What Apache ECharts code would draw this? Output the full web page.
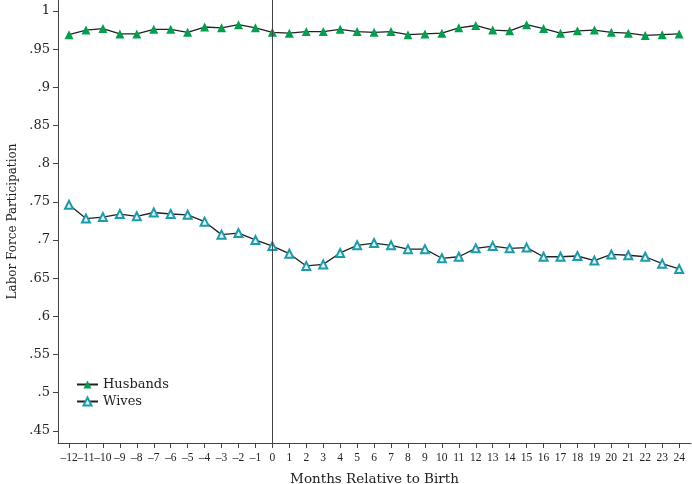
<!DOCTYPE html>
<html>
<head>
<meta charset="utf-8">
<script src="https://cdn.jsdelivr.net/npm/echarts@6/dist/echarts.min.js"></script>
<style>
  html, body { margin: 0; padding: 0; background: #fff; }
  #chart { width: 692px; height: 484px; }
</style>
</head>
<body>
<div id="chart"></div>
<script>
// months relative to birth
var months = [-12, -11, -10, -9, -8, -7, -6, -5, -4, -3, -2, -1, 0, 1, 2, 3, 4, 5, 6, 7, 8, 9, 10, 11, 12, 13, 14, 15, 16, 17, 18, 19, 20, 21, 22, 23, 24];
var husbands = [.969, .975, .977, .970, .970, .976, .976, .972, .979, .978, .982, .978, .972, .971, .973, .973, .976, .973, .972, .973, .969, .970, .971, .978, .981, .975, .974, .982, .977, .971, .974, .975, .972, .971, .968, .969, .970];
var wives = [.746, .728, .730, .734, .731, .736, .734, .733, .724, .707, .709, .700, .692, .682, .666, .668, .683, .693, .696, .693, .688, .688, .676, .678, .689, .692, .689, .690, .678, .678, .679, .673, .681, .680, .678, .669, .662];
var yTicks = [.45, .5, .55, .6, .65, .7, .75, .8, .85, .9, .95, 1];

var serif = "DejaVu Serif";
var narrow = "Liberation Serif";

function pairs(vals) {
  return months.map(function (m, i) { return [m, vals[i]]; });
}

var myChart = echarts.init(document.getElementById("chart"));

var option = {
  animation: false,
  textStyle: { fontFamily: serif, color: "#222" },
  grid: { left: 58, right: 1, top: 0, bottom: 41, outerBoundsMode: "none" },
  legend: {
    orient: "vertical",
    left: 71,
    top: 373,
    itemWidth: 21,
    itemHeight: 10,
    itemGap: 4,
    textStyle: { fontFamily: serif, fontSize: 13, color: "#222" },
    data: ["Husbands", "Wives"]
  },
  xAxis: {
    type: "value",
    min: -12.65,
    max: 24.7,
    name: "Months Relative to Birth",
    nameLocation: "middle",
    nameGap: 29,
    nameTextStyle: { fontFamily: serif, fontSize: 13.5, color: "#222" },
    axisLine: { onZero: false, lineStyle: { color: "#444", width: 1 } },
    axisTick: { customValues: months, length: 5, lineStyle: { color: "#444" } },
    axisLabel: {
      customValues: months,
      fontFamily: narrow,
      fontSize: 11.5,
      color: "#222",
      margin: 9,
      showMinLabel: true,
      hideOverlap: false,
      formatter: function (v) { return v < 0 ? "\u2013" + Math.abs(v) : String(v); }
    },
    splitLine: { show: false }
  },
  yAxis: {
    type: "value",
    min: 0.434,
    max: 1.0144,
    name: "Labor Force Participation",
    nameLocation: "middle",
    nameGap: 39,
    nameTextStyle: { fontFamily: serif, fontSize: 12, color: "#222" },
    axisLine: { show: true, onZero: false, lineStyle: { color: "#444", width: 1 } },
    axisTick: { show: true, customValues: yTicks, length: 5, lineStyle: { color: "#444" } },
    axisLabel: {
      customValues: yTicks,
      fontSize: 13,
      color: "#222",
      margin: 8,
      formatter: function (v) {
        var s = String(Math.round(v * 100) / 100);
        return s.replace(/^0/, "");
      }
    },
    splitLine: { show: false }
  },
  series: [
    {
      name: "Husbands",
      type: "line",
      data: pairs(husbands),
      symbol: "triangle",
      symbolSize: 9,
      lineStyle: { color: "#222", width: 1.3 },
      itemStyle: { color: "#00a04e", borderWidth: 0 },
      markLine: {
        silent: true,
        symbol: "none",
        label: { show: false },
        lineStyle: { color: "#444", width: 1, type: "solid" },
        data: [{ xAxis: 0 }]
      }
    },
    {
      name: "Wives",
      type: "line",
      data: pairs(wives),
      symbol: "triangle",
      symbolSize: 8,
      lineStyle: { color: "#222", width: 1.3 },
      itemStyle: { color: "#e6f3f3", borderColor: "#1b9cad", borderWidth: 2 }
    }
  ]
};

myChart.setOption(option);
</script>
</body>
</html>
